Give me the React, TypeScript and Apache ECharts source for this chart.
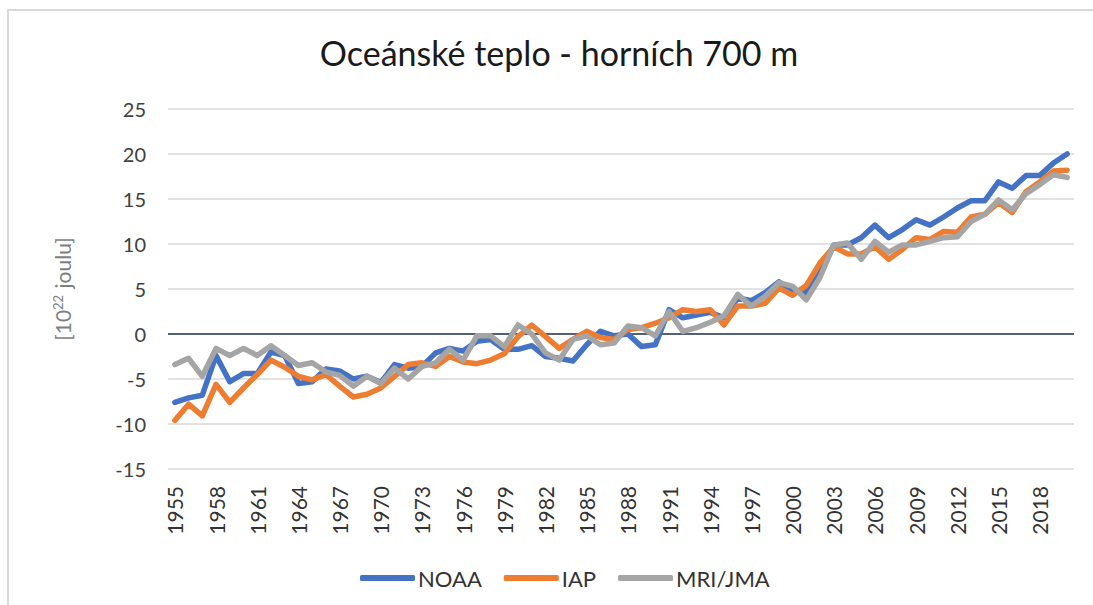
import React, { useEffect, useRef } from "react";
import * as echarts from "echarts";

const title = "Oceánské teplo - horních 700 m";
const yAxisName = "[10{sup|22} joulu]";

const years = [
  "1955", "1956", "1957", "1958", "1959", "1960", "1961", "1962", "1963", "1964",
  "1965", "1966", "1967", "1968", "1969", "1970", "1971", "1972", "1973", "1974",
  "1975", "1976", "1977", "1978", "1979", "1980", "1981", "1982", "1983", "1984",
  "1985", "1986", "1987", "1988", "1989", "1990", "1991", "1992", "1993", "1994",
  "1995", "1996", "1997", "1998", "1999", "2000", "2001", "2002", "2003", "2004",
  "2005", "2006", "2007", "2008", "2009", "2010", "2011", "2012", "2013", "2014",
  "2015", "2016", "2017", "2018", "2019", "2020",
];

const noaa = [
  -7.6, -7.1, -6.8, -2.4, -5.3, -4.4, -4.4, -2.0, -2.4, -5.5,
  -5.3, -3.9, -4.1, -5.0, -4.7, -5.4, -3.4, -3.8, -3.6, -2.1,
  -1.6, -1.9, -0.8, -0.6, -1.7, -1.7, -1.3, -2.5, -2.7, -3.0,
  -1.2, 0.3, -0.2, 0.0, -1.4, -1.2, 2.7, 1.8, 2.1, 2.4,
  1.8, 4.0, 3.7, 4.6, 5.8, 4.7, 4.6, 6.8, 9.9, 9.9,
  10.7, 12.1, 10.7, 11.6, 12.7, 12.1, 13.0, 14.0, 14.8, 14.8,
  16.9, 16.2, 17.6, 17.6, 19.0, 20.0,
];

const iap = [
  -9.6, -7.8, -9.1, -5.6, -7.6, -6.0, -4.5, -2.9, -3.7, -4.7,
  -5.1, -4.5, -5.8, -7.0, -6.7, -6.0, -4.7, -3.4, -3.2, -3.6,
  -2.5, -3.1, -3.3, -2.9, -2.2, -0.3, 1.0, -0.3, -1.6, -0.6,
  0.3, -0.4, -0.6, 0.5, 0.7, 1.2, 1.8, 2.7, 2.5, 2.7,
  1.0, 3.1, 3.1, 3.4, 5.1, 4.3, 5.4, 7.9, 9.7, 8.9,
  8.9, 9.7, 8.3, 9.4, 10.7, 10.5, 11.4, 11.3, 13.0, 13.3,
  14.6, 13.5, 15.8, 16.9, 18.1, 18.2,
];

const mriJma = [
  -3.4, -2.7, -4.7, -1.6, -2.4, -1.6, -2.4, -1.3, -2.4, -3.5,
  -3.2, -4.2, -4.6, -5.8, -4.7, -5.5, -3.8, -5.0, -3.6, -3.2,
  -1.7, -2.9, -0.2, -0.2, -1.4, 1.0, 0.0, -2.1, -2.9, -0.6,
  -0.2, -1.2, -1.0, 0.9, 0.7, -0.2, 2.5, 0.3, 0.7, 1.3,
  2.0, 4.4, 3.1, 4.2, 5.7, 5.3, 3.8, 6.3, 9.9, 10.1,
  8.3, 10.3, 9.1, 9.9, 9.9, 10.3, 10.7, 10.8, 12.5, 13.3,
  14.9, 13.8, 15.6, 16.6, 17.7, 17.4,
];

const seriesNames = ["NOAA", "IAP", "MRI/JMA"];
const seriesColors = ["#4472C4", "#ED7D31", "#A5A5A5"];

const FONT = "Lato, 'Open Sans', sans-serif";

export default function App() {
  const ref = useRef<HTMLDivElement>(null);

  useEffect(() => {
    document.body.style.margin = "0";
    if (!ref.current) return;
    const chart = echarts.init(ref.current, undefined, { renderer: "svg" });
    const datasets = [noaa, iap, mriJma];
    chart.setOption({
      animation: false,
      backgroundColor: "#ffffff",
      textStyle: { fontFamily: FONT },
      title: {
        text: title,
        left: 554,
        textAlign: "center",
        top: 30,
        textStyle: { fontFamily: FONT, fontSize: 34, fontWeight: "normal", color: "#1a1a1a" },
      },
      graphic: [
        {
          type: "rect",
          shape: { x: 8, y: 10, width: 1100, height: 610 },
          style: { fill: "none", stroke: "#d9d9d9", lineWidth: 2 },
          silent: true,
        },
      ],
      legend: {
        left: 355,
        top: 562,
        itemWidth: 55,
        itemHeight: 6,
        itemGap: 22,
        icon: "roundRect",
        textStyle: { fontFamily: FONT, fontSize: 22, color: "#333333", padding: [0, 0, 0, -2] },
        data: seriesNames,
      },
      grid: { left: 168, right: 19, top: 109, bottom: 136 },
      xAxis: {
        type: "category",
        data: years,
        boundaryGap: true,
        axisLine: { show: false },
        axisTick: { show: false },
        axisLabel: {
          interval: 2,
          rotate: 90,
          margin: 17,
          fontFamily: FONT,
          fontSize: 21,
          color: "#333333",
        },
        splitLine: { show: false },
      },
      yAxis: {
        type: "value",
        min: -15,
        max: 25,
        interval: 5,
        name: yAxisName,
        nameLocation: "middle",
        nameGap: 95,
        nameRotate: 90,
        nameTextStyle: {
          fontFamily: FONT,
          fontSize: 21,
          color: "#7f7f7f",
          rich: {
            sup: {
              fontFamily: FONT,
              fontSize: 13,
              color: "#7f7f7f",
              lineHeight: 13,
              padding: [0, 1, 9, 0],
            },
          },
        },
        axisLine: { show: false },
        axisTick: { show: false },
        axisLabel: { fontFamily: FONT, fontSize: 20, color: "#404040", margin: 22 },
        splitLine: { lineStyle: { color: "#d9d9d9", width: 1.5 } },
      },
      series: seriesNames.map((name, i) => ({
        name,
        type: "line",
        data: datasets[i],
        symbol: "none",
        color: seriesColors[i],
        lineStyle: { width: 5.5, color: seriesColors[i], cap: "round", join: "round" },
        z: 3 + i,
        markLine:
          i === 0
            ? {
                silent: true,
                symbol: "none",
                label: { show: false },
                lineStyle: { color: "#243452", width: 1.5, type: "solid" },
                data: [{ yAxis: 0 }],
                z: 1,
              }
            : undefined,
      })),
    });
    return () => chart.dispose();
  }, []);

  return <div ref={ref} style={{ width: 1093, height: 605 }} />;
}
